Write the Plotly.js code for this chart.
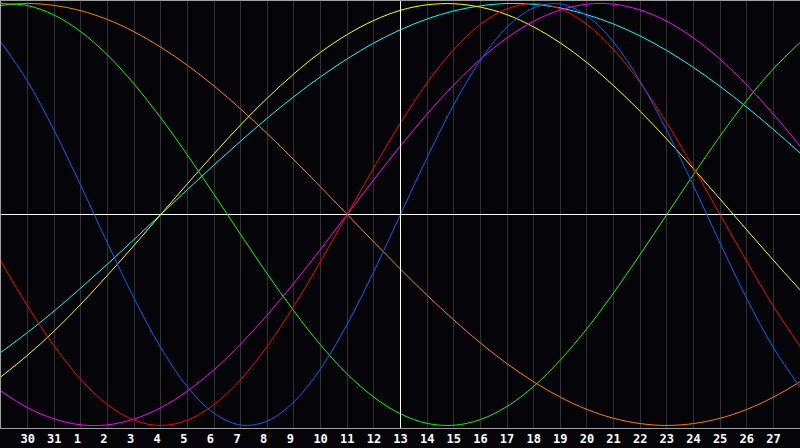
<!DOCTYPE html>
<html>
<head>
<meta charset="utf-8">
<script src="https://cdn.plot.ly/plotly-3.0.1.min.js"></script>
<style>
html,body{margin:0;padding:0;background:#050509;}
#chart{width:800px;height:448px;}
</style>
</head>
<body>
<div id="chart"></div>
<script>
// Day labels for each sampled day (first and last are at the chart edges)
const dayLabels = ['29','30','31','1','2','3','4','5','6','7','8','9','10','11','12','13','14','15','16','17','18','19','20','21','22','23','24','25','26','27','28'];
const todayLabel = '13';

// Cycle values per day, range -1..1
const physical = [0.817,0.631,0.398,0.136,-0.136,-0.398,-0.631,-0.817,-0.942,-0.998,-0.979,-0.888,-0.731,-0.520,-0.270,0,0.270,0.520,0.731,0.888,0.979,0.998,0.942,0.817,0.631,0.398,0.136,-0.136,-0.398,-0.631,-0.817];
const emotional = [-0.222,-0.434,-0.624,-0.782,-0.901,-0.975,-1,-0.975,-0.901,-0.782,-0.624,-0.434,-0.222,0,0.222,0.434,0.624,0.782,0.901,0.975,1,0.975,0.901,0.782,0.624,0.434,0.222,0,-0.222,-0.434,-0.624];
const intellectual = [0.999,0.990,0.945,0.866,0.756,0.618,0.458,0.282,0.095,-0.095,-0.282,-0.458,-0.618,-0.756,-0.866,-0.945,-0.990,-0.999,-0.972,-0.910,-0.815,-0.690,-0.541,-0.372,-0.189,0,0.189,0.372,0.541,0.690,0.815];
const intuitive = [-0.837,-0.916,-0.969,-0.997,-0.997,-0.969,-0.916,-0.837,-0.736,-0.614,-0.476,-0.325,-0.165,0,0.165,0.325,0.476,0.614,0.736,0.837,0.916,0.969,0.997,0.997,0.969,0.916,0.837,0.736,0.614,0.476,0.325];
const aesthetic = [-0.769,-0.667,-0.552,-0.425,-0.288,-0.146,0,0.146,0.288,0.425,0.552,0.667,0.769,0.853,0.920,0.968,0.994,0.999,0.983,0.947,0.889,0.813,0.720,0.611,0.489,0.357,0.217,0.073,-0.073,-0.217,-0.357];
const awareness = [0.991,1,0.991,0.966,0.924,0.866,0.793,0.707,0.609,0.5,0.383,0.259,0.131,0,-0.131,-0.259,-0.383,-0.5,-0.609,-0.707,-0.793,-0.866,-0.924,-0.966,-0.991,-1,-0.991,-0.966,-0.924,-0.866,-0.793];
const spiritual = [-0.653,-0.559,-0.457,-0.348,-0.235,-0.118,0,0.118,0.235,0.348,0.457,0.559,0.653,0.738,0.813,0.876,0.927,0.965,0.989,1.0,0.996,0.979,0.947,0.903,0.846,0.777,0.697,0.607,0.509,0.403,0.292];

const seriesNames = ['awareness','spiritual','aesthetic','intuitive','intellectual','emotional','physical'];
const seriesValues = [awareness, spiritual, aesthetic, intuitive, intellectual, emotional, physical];
const seriesColors = ['#ff8000','#00ffff','#ffff00','#ff00ff','#00ff00','#ff0000','#0064ff'];

const xs = dayLabels.map((_, i) => i);
const traces = seriesValues.map((vals, k) => ({
  x: xs, y: vals, type: 'scatter', mode: 'lines', name: seriesNames[k],
  line: {color: seriesColors[k], width: 1, shape: 'spline', smoothing: 1},
  hoverinfo: 'skip'
}));

const tickIdx = xs.slice(1, -1);
const tickText = tickIdx.map(i => dayLabels[i].length === 1 ? dayLabels[i] + '\u00a0' : dayLabels[i]);
const todayIdx = dayLabels.indexOf(todayLabel, 3);

const layout = {
  width: 800, height: 448,
  paper_bgcolor: '#050509', plot_bgcolor: '#050509',
  margin: {l: 1, r: 0, t: 1, b: 20},
  showlegend: false,
  xaxis: {
    range: [0, xs.length - 1], tickmode: 'array', tickvals: tickIdx, ticktext: tickText,
    showgrid: true, gridcolor: '#323232', gridwidth: 1,
    showline: true, mirror: true, linecolor: '#a0a0a0', linewidth: 1,
    ticks: '', zeroline: false,
    tickfont: {family: 'DejaVu Sans Mono', size: 12, color: '#ffffff', weight: 'bold'}
  },
  yaxis: {
    range: [-1.012, 1.012], showgrid: false, showticklabels: false, ticks: '',
    zeroline: true, zerolinecolor: '#ffffff', zerolinewidth: 1,
    showline: true, mirror: true, linecolor: '#a0a0a0', linewidth: 1
  },
  shapes: [{type: 'line', xref: 'x', yref: 'paper', x0: todayIdx, x1: todayIdx, y0: 0, y1: 1,
            line: {color: '#ffffff', width: 1}, layer: 'above'}]
};

Plotly.newPlot('chart', traces, layout, {staticPlot: true, displayModeBar: false});
</script>
</body>
</html>
